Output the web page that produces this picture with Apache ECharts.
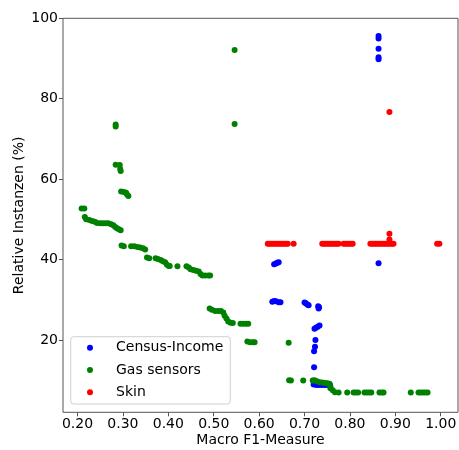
<!DOCTYPE html>
<html>
<head>
<meta charset="utf-8">
<script src="https://cdn.jsdelivr.net/npm/echarts@6/dist/echarts.min.js"></script>
<style>html,body{margin:0;padding:0;background:#fff}#c{width:459px;height:450px}</style>
</head>
<body>
<div id="c"></div>
<script>
const xTicks = [0.2, 0.3, 0.4, 0.5, 0.6, 0.7, 0.8, 0.9, 1.0];
const yTicks = [20, 40, 60, 80, 100];

const censusX = [0.863, 0.863, 0.863, 0.863, 0.863, 0.863,
  0.633, 0.637, 0.640, 0.643,
  0.629, 0.633, 0.637, 0.643, 0.647,
  0.700, 0.703, 0.706, 0.709,
  0.730, 0.732, 0.731,
  0.722, 0.725, 0.729, 0.733,
  0.724, 0.723, 0.721, 0.721,
  0.720, 0.726, 0.732, 0.738, 0.744, 0.750, 0.756];
const censusY = [95.6, 95.0, 92.4, 90.3, 89.8, 39.1,
  38.8, 39.0, 39.2, 39.3,
  29.5, 29.7, 29.6, 29.4, 29.4,
  29.3, 29.1, 28.8, 28.6,
  28.4, 28.1, 27.8,
  22.8, 23.0, 23.3, 23.6,
  20.0, 18.3, 17.2, 13.2,
  8.9, 8.8, 8.8, 8.8, 8.8, 8.8, 8.8];

const gasX = [0.546, 0.546, 0.284, 0.284,
  0.284, 0.293, 0.294, 0.295,
  0.296, 0.302, 0.307, 0.309, 0.312,
  0.209, 0.215,
  0.216, 0.219, 0.226, 0.232, 0.238, 0.243, 0.250, 0.256, 0.262, 0.268, 0.274, 0.279, 0.283, 0.287, 0.291, 0.295,
  0.297, 0.302, 0.318, 0.325, 0.332, 0.338, 0.344, 0.349,
  0.353, 0.358, 0.372, 0.377, 0.383, 0.388, 0.393, 0.397, 0.401, 0.403,
  0.420,
  0.440, 0.445, 0.449, 0.455, 0.461, 0.467, 0.471, 0.475, 0.481, 0.488, 0.492,
  0.491, 0.496, 0.503, 0.510, 0.516, 0.521, 0.524, 0.528, 0.532, 0.537, 0.542,
  0.559, 0.565, 0.571, 0.576,
  0.574, 0.580, 0.586, 0.590,
  0.665,
  0.666, 0.670, 0.697, 0.718, 0.722, 0.727, 0.733, 0.739, 0.745, 0.750, 0.755, 0.757, 0.757, 0.762, 0.767,
  0.775, 0.794, 0.808, 0.813, 0.818, 0.832, 0.837, 0.842, 0.847, 0.865, 0.870, 0.874,
  0.934, 0.951, 0.956, 0.961, 0.966, 0.971];
const gasY = [92.1, 73.7, 73.6, 73.1,
  63.6, 63.5, 62.5, 62.0,
  56.9, 56.8, 56.6, 56.2, 55.8,
  52.7, 52.7,
  50.6, 50.0, 49.8, 49.6, 49.4, 49.1, 49.0, 49.0, 49.0, 49.0, 48.8, 48.5, 48.1, 47.8, 47.5, 47.3,
  43.5, 43.3, 43.3, 43.3, 43.1, 43.0, 42.8, 42.5,
  40.5, 40.3, 40.3, 40.1, 39.9, 39.6, 39.3, 38.7, 38.4, 38.4,
  38.3,
  38.3, 38.0, 37.6, 37.4, 37.2, 37.0, 36.4, 36.0, 36.0, 36.0, 36.0,
  27.8, 27.5, 27.2, 27.2, 27.2, 26.8, 26.0, 25.3, 24.6, 24.3, 24.2,
  24.0, 24.0, 24.0, 24.0,
  19.6, 19.4, 19.4, 19.4,
  19.3,
  10.0, 9.9, 9.9, 9.9, 10.0, 9.7, 9.5, 9.4, 9.3, 9.2, 9.1, 8.4, 8.0, 7.5, 7.0,
  6.9, 6.9, 6.9, 6.9, 6.9, 6.9, 6.9, 6.9, 6.9, 6.9, 6.9, 6.9,
  6.9, 6.9, 6.9, 6.9, 6.9, 6.9];

const skinX = [0.619, 0.623, 0.627, 0.631, 0.635, 0.639, 0.643, 0.647, 0.651, 0.655, 0.659, 0.663,
  0.676,
  0.739, 0.743, 0.747, 0.751, 0.755, 0.759, 0.763, 0.767, 0.771, 0.775,
  0.786, 0.790, 0.794, 0.798, 0.802, 0.806,
  0.845, 0.849, 0.853, 0.857, 0.861, 0.865, 0.869, 0.873, 0.877, 0.881, 0.885, 0.889, 0.893, 0.896,
  0.887, 0.887, 0.887,
  0.992, 0.997];
const skinY = [43.9, 43.9, 43.9, 43.9, 43.9, 43.9, 43.9, 43.9, 43.9, 43.9, 43.9, 43.9,
  43.9,
  43.9, 43.9, 43.9, 43.9, 43.9, 43.9, 43.9, 43.9, 43.9, 43.9,
  43.9, 43.9, 43.9, 43.9, 43.9, 43.9,
  43.9, 43.9, 43.9, 43.9, 43.9, 43.9, 43.9, 43.9, 43.9, 43.9, 43.9, 43.9, 43.9, 43.9,
  45.0, 46.4, 76.7,
  43.9, 43.9];

const zip = (xs, ys) => xs.map((x, i) => [x, ys[i]]);
const FONT = 'DejaVu Sans';
const FS = 14;

const chart = echarts.init(document.getElementById('c'), null, {renderer: 'canvas'});
chart.setOption({
  animation: false,
  backgroundColor: '#fff',
  grid: {left: 63, right: 1, top: 18.3, bottom: 37.7, show: true, borderColor: '#555', borderWidth: 1,
    containLabel: false, outerBoundsMode: 'none'},
  xAxis: {
    type: 'value', min: 0.168, max: 1.038,
    name: 'Macro F1-Measure', nameLocation: 'middle', nameGap: 21, nameMoveOverlap: false,
    nameTextStyle: {fontFamily: FONT, fontSize: FS, color: '#000'},
    axisLine: {show: false},
    axisTick: {show: true, length: 4, lineStyle: {color: '#555'}, customValues: xTicks},
    axisLabel: {fontFamily: FONT, fontSize: FS, color: '#000', margin: 5, customValues: xTicks,
      formatter: v => v.toFixed(2)},
    splitLine: {show: false}
  },
  yAxis: {
    type: 'value', min: 2, max: 100,
    name: 'Relative Instanzen (%)', nameLocation: 'middle', nameGap: 37, nameMoveOverlap: false,
    nameTextStyle: {fontFamily: FONT, fontSize: FS, color: '#000'},
    axisLine: {show: false},
    axisTick: {show: true, length: 4, lineStyle: {color: '#555'}, customValues: yTicks},
    axisLabel: {fontFamily: FONT, fontSize: FS, color: '#000', margin: 5, customValues: yTicks},
    splitLine: {show: false}
  },
  legend: {
    orient: 'vertical', left: 70.7, top: 336.7,
    padding: [3, 7, 3.7, 16.3],
    itemWidth: 6, itemHeight: 6, itemGap: 6.3,
    icon: 'circle',
    borderColor: '#d0d0d0', borderWidth: 1, borderRadius: 3,
    backgroundColor: 'rgba(255,255,255,0.8)',
    textStyle: {fontFamily: FONT, fontSize: FS, color: '#000', lineHeight: 16, padding: [0, 0, 0, 18]},
    data: ['Census-Income', 'Gas sensors', 'Skin']
  },
  series: [
    {name: 'Census-Income', type: 'scatter', symbolSize: 6, itemStyle: {color: '#0000ff', opacity: 1}, data: zip(censusX, censusY)},
    {name: 'Gas sensors', type: 'scatter', symbolSize: 6, itemStyle: {color: '#008000', opacity: 1}, data: zip(gasX, gasY)},
    {name: 'Skin', type: 'scatter', symbolSize: 6, itemStyle: {color: '#ff0000', opacity: 1}, data: zip(skinX, skinY)}
  ]
});
</script>
</body>
</html>
